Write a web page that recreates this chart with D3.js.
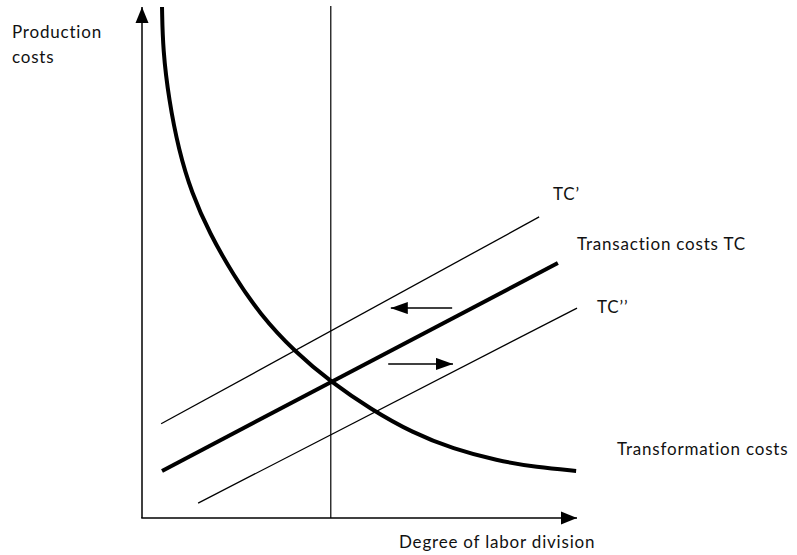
<!DOCTYPE html>
<html>
<head>
<meta charset="utf-8">
<script src="https://cdn.jsdelivr.net/npm/d3@7"></script>
<style>
  body { margin: 0; background: #fff; }
  text { font-family: Lato, "Open Sans", sans-serif; font-size: 17px; fill: #111; letter-spacing: 0.8px; }
</style>
</head>
<body>
<div id="chart"></div>
<script>
(function () {
    // axis units are 0..100 in both directions

    // transformation costs curve
    var curveX = [4.6, 4.6, 4.8, 6.2, 8.4, 11.4, 15.6, 20.9, 27.1, 35.2, 43.4, 52.5, 62.3, 71.5, 81.6, 90.8, 99.8, 99.8]
    var curveY = [99.8, 99.8, 91.4, 81.6, 72.0, 63.5, 55.5, 47.6, 39.8, 32.4, 26.6, 21.3, 16.6, 13.5, 11.2, 9.9, 9.2, 9.2]

    // transaction cost lines: [x0, y0, x1, y1]
    var tcLine = [4.6, 9.2, 95.6, 49.8]
    var tcUpLine = [4.4, 18.4, 91.3, 58.8]
    var tcDownLine = [12.9, 2.9, 100, 41.0]

    // optimum degree of labor division
    var optimumX = 43.4

    // shift arrows: [xFrom, xTo, y]
    var leftArrow = [71.3, 57.2, 41.0]
    var rightArrow = [56.6, 71.5, 30.1]

    var width = 797, height = 555

    var x = d3.scaleLinear().domain([0, 100]).range([142, 577])
    var y = d3.scaleLinear().domain([0, 100]).range([518, 6])

    var svg = d3.select("#chart").append("svg")
        .attr("width", width).attr("height", height)

    var defs = svg.append("defs")
    defs.append("marker")
        .attr("id", "axisHead")
        .attr("markerUnits", "userSpaceOnUse")
        .attr("viewBox", "0 0 16 16")
        .attr("markerWidth", 16).attr("markerHeight", 16)
        .attr("refX", 16).attr("refY", 8)
        .attr("orient", "auto")
        .append("path").attr("d", "M0,1.5L16,8L0,14.5Z").attr("fill", "#000")
    defs.append("marker")
        .attr("id", "smallHead")
        .attr("markerUnits", "userSpaceOnUse")
        .attr("viewBox", "0 0 17 12")
        .attr("markerWidth", 17).attr("markerHeight", 12)
        .attr("refX", 17).attr("refY", 6)
        .attr("orient", "auto")
        .append("path").attr("d", "M0,0L17,6L0,12Z").attr("fill", "#000")

    // axes
    svg.append("line")
        .attr("x1", x(0)).attr("y1", y(0))
        .attr("x2", x(0)).attr("y2", y(100) + 1)
        .attr("stroke", "#000").attr("stroke-width", 1.5)
        .attr("marker-end", "url(#axisHead)")
    svg.append("line")
        .attr("x1", x(0) - 0.75).attr("y1", y(0))
        .attr("x2", x(100)).attr("y2", y(0))
        .attr("stroke", "#000").attr("stroke-width", 1.5)
        .attr("marker-end", "url(#axisHead)")

    // vertical line at optimum
    svg.append("line")
        .attr("x1", x(optimumX)).attr("y1", y(0))
        .attr("x2", x(optimumX)).attr("y2", y(100))
        .attr("stroke", "#000").attr("stroke-width", 1.2)

    // transaction cost lines
    var lines = [
        { d: tcUpLine, w: 1.3 },
        { d: tcDownLine, w: 1.3 },
        { d: tcLine, w: 4 }
    ]
    svg.append("g").selectAll("line")
        .data(lines)
        .join("line")
        .attr("x1", d => x(d.d[0])).attr("y1", d => y(d.d[1]))
        .attr("x2", d => x(d.d[2])).attr("y2", d => y(d.d[3]))
        .attr("stroke", "#000")
        .attr("stroke-width", d => d.w)

    // transformation costs curve
    var pts = curveX.map((v, i) => [v, curveY[i]])
    var line = d3.line()
        .x(d => x(d[0])).y(d => y(d[1]))
        .curve(d3.curveBasis)
    svg.append("path")
        .attr("d", line(pts))
        .attr("fill", "none")
        .attr("stroke", "#000")
        .attr("stroke-width", 4)

    // shift arrows
    svg.append("g").selectAll("line")
        .data([leftArrow, rightArrow])
        .join("line")
        .attr("x1", d => x(d[0])).attr("y1", d => y(d[2]))
        .attr("x2", d => x(d[1])).attr("y2", d => y(d[2]))
        .attr("stroke", "#000").attr("stroke-width", 1.5)
        .attr("marker-end", "url(#smallHead)")

    // labels
    var labels = [
        { t: "Production", x: 12, y: 38 },
        { t: "costs", x: 12, y: 63 },
        { t: "TC\u2019", x: 553, y: 200 },
        { t: "Transaction costs TC", x: 577, y: 250 },
        { t: "TC\u2019\u2019", x: 597, y: 313 },
        { t: "Transformation costs", x: 617, y: 455 },
        { t: "Degree of labor division", x: 399, y: 548 }
    ]
    svg.append("g").selectAll("text")
        .data(labels)
        .join("text")
        .attr("x", d => d.x).attr("y", d => d.y)
        .text(d => d.t)
})();
</script>
</body>
</html>
